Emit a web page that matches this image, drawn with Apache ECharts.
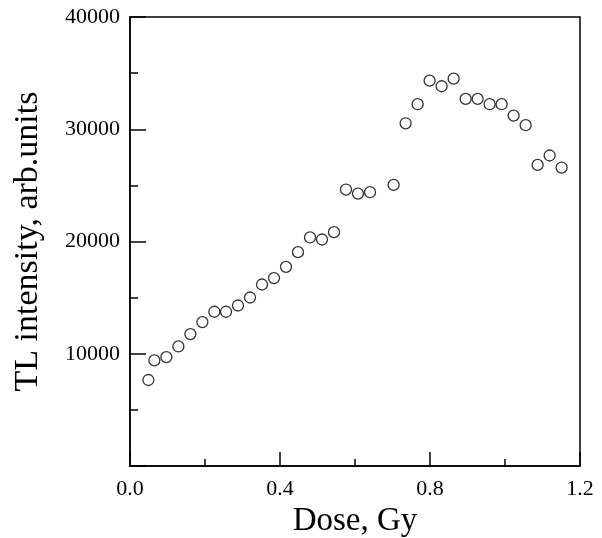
<!DOCTYPE html>
<html><head><meta charset="utf-8">
<script src="https://cdn.jsdelivr.net/npm/echarts@6/dist/echarts.min.js"></script>
<style>html,body{margin:0;padding:0;background:#fff}#c{width:602px;height:538px}</style>
</head><body><div id="c"></div>
<script>
const dose = [0.049,0.065,0.097,0.129,0.161,0.193,0.225,0.256,0.288,0.320,0.352,0.384,0.416,0.448,0.480,0.512,0.544,0.576,0.608,0.640,0.703,0.735,0.767,0.799,0.831,0.863,0.895,0.927,0.959,0.991,1.023,1.055,1.087,1.119,1.151];
const intensity = [7660,9410,9700,10650,11750,12820,13740,13740,14300,15010,16170,16740,17740,19050,20360,20180,20830,24630,24270,24390,25040,30530,32230,34330,33830,34510,32700,32700,32230,32230,31220,30360,26820,27660,26590];
const xTicks = [0.0,0.4,0.8,1.2];
const yTicks = [0,10000,20000,30000,40000];
const xName = 'Dose, Gy';
const yName = 'TL intensity, arb.units';

const chart = echarts.init(document.getElementById('c'));
const font = 'Liberation Serif, Times New Roman, serif';
chart.setOption({
  animation:false,
  grid:{left:130,right:22,top:17,bottom:72,outerBoundsMode:'none',containLabel:false,show:true,borderColor:'#000',borderWidth:1.5,backgroundColor:'transparent'},
  xAxis:{type:'value',min:xTicks[0],max:xTicks[xTicks.length-1],interval:0.4,
    name:xName,nameLocation:'middle',nameGap:38,
    nameTextStyle:{fontFamily:font,fontSize:33,color:'#000'},
    axisLine:{lineStyle:{color:'#000',width:1.5}},
    axisTick:{inside:true,length:14,lineStyle:{color:'#000',width:1.5}},
    minorTick:{show:true,splitNumber:2,length:7,lineStyle:{color:'#000',width:1.5}},
    splitLine:{show:false},
    axisLabel:{fontFamily:font,fontSize:22,color:'#000',margin:12,formatter:v=>v.toFixed(1)}},
  yAxis:{type:'value',min:yTicks[0],max:yTicks[yTicks.length-1],interval:10000,
    name:yName,nameLocation:'middle',nameGap:85,
    nameTextStyle:{fontFamily:font,fontSize:34,color:'#000'},
    axisLine:{lineStyle:{color:'#000',width:1.5}},
    axisTick:{inside:true,length:16,lineStyle:{color:'#000',width:1.5}},
    minorTick:{show:true,splitNumber:2,length:8,lineStyle:{color:'#000',width:1.5}},
    splitLine:{show:false},
    axisLabel:{fontFamily:font,fontSize:22,color:'#000',margin:10,formatter:v=>v===0?'':String(v)}},
  series:[{type:'scatter',data:dose.map((d,i)=>[d,intensity[i]]),
    symbol:'circle',symbolSize:11,
    itemStyle:{color:'#fff',borderColor:'#000',borderWidth:1.3}}]
});
</script></body></html>
